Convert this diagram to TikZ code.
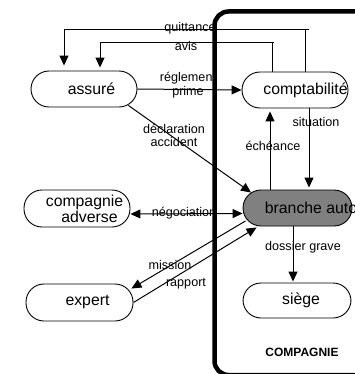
\documentclass[tikz,border=0pt]{standalone}
\usepackage{fontspec}
\setmainfont{Liberation Sans}
\usetikzlibrary{arrows.meta}
\definecolor{brgray}{RGB}{128,128,128}
\newcommand{\shiftedtext}[2]{\makebox[0pt]{\hspace*{#1}#2}}
\begin{document}
\begin{tikzpicture}[x=1pt,y=-1pt,
  box/.style={draw, line width=0.9pt, rectangle, rounded corners=18pt,
    minimum width=#1, minimum height=36pt, inner sep=0pt,
    font=\fontsize{15.8}{13.5}\selectfont, align=center},
  lbl/.style={inner sep=0pt, font=\fontsize{12.6}{13.5}\selectfont, align=center},
  con/.style={line width=1pt},
  arr/.style={con, -{Triangle[length=10pt,width=9pt]}},
  darr/.style={con, {Triangle[length=10pt,width=9pt]}-{Triangle[length=10pt,width=9pt]}},
  frame/.style={line width=4.5pt, rounded corners=14pt}]
\useasboundingbox (0,0) rectangle (354,374);

% nodes
\node[box=106] (assure) at (84,89) {\shiftedtext{15pt}{assuré}};
\node[box=106] (compta) at (295,90) {\shiftedtext{21pt}{comptabilité}};
\node[box=106, minimum height=37pt] (cadv) at (77,208.5) {\shiftedtext{15pt}{compagnie}\\\shiftedtext{25pt}{adverse}};
\node[box=109, fill=brgray] (branche) at (297.5,208) {\shiftedtext{27pt}{branche auto}};
\node[box=107, minimum height=37pt] (expert) at (79.5,302.5) {\shiftedtext{16pt}{expert}};
\node[box=108, minimum height=35pt] (siege) at (297,300.5) {\shiftedtext{8pt}{siège}};

% helper coordinates
\coordinate (qu) at (305,30);
\coordinate (quR) at (309,30);
\coordinate (quL) at (64,30);
\coordinate (av) at (272,43);
\coordinate (avR) at (274,43);
\coordinate (avL) at (100,43);
\coordinate (ech) at (270,150);
\coordinate (sit) at (309,150);
\coordinate (dos) at (293,250);

% connectors
\draw[con] (compta.north -| qu) -- (qu);
\draw[arr, shorten >=5pt] (quR) -- (quL) -- (assure.north -| quL);
\draw[con] (compta.north -| av) -- (av);
\draw[arr, shorten >=3pt] (avR) -- (avL) -- (assure.north -| avL);
\draw[arr] (assure.east) -- (compta.west);
\draw[arr] ([xshift=-9pt,yshift=2pt]assure.south east) -- ([xshift=8.5pt,yshift=-3pt]branche.north west);
\draw[arr, shorten >=3pt] (branche.north -| ech) -- (compta.south -| ech);
\draw[arr, shorten >=2pt] (compta.south -| sit) -- (branche.north -| sit);
\draw[darr] ([yshift=-5.5pt]cadv.east) -- ([yshift=-5.5pt]branche.west);
\draw[arr] ([xshift=3pt,yshift=5.5pt]branche.south west) -- ([xshift=-2pt,yshift=-5pt]expert.north east);
\draw[arr] (expert.east) -- ([xshift=14pt,yshift=-1pt]branche.south west);
\draw[arr, shorten >=1pt] (branche.south -| dos) -- (siege.north -| dos);

% labels
\node[lbl] (lquit) at (190,28) {quittance};
\node[lbl] (lavis) at (186,45.5) {avis};
\node[lbl] (lregl) at (188,85) {réglement\\prime};
\node[lbl] (ldecl) at (174,135.5) {déclaration\\accident};
\node[lbl] (lech) at (273,146) {échéance};
\node[lbl] (lsit) at (316,122) {situation};
\node[lbl] (lneg) at (184,213) {négociation};
\node[lbl] (lmis) at (170,264.5) {mission};
\node[lbl] (lrap) at (186,284) {rapport};
\node[lbl] (ldos) at (303,247.5) {dossier grave};
\node[inner sep=0pt, font=\fontsize{12}{13}\selectfont\bfseries] (lcomp) at (302,352) {COMPAGNIE};

% company frame
\draw[frame] (380,375) -- (214.5,375) -- (214.5,11.5) -- (380,11.5);
\end{tikzpicture}
\end{document}
